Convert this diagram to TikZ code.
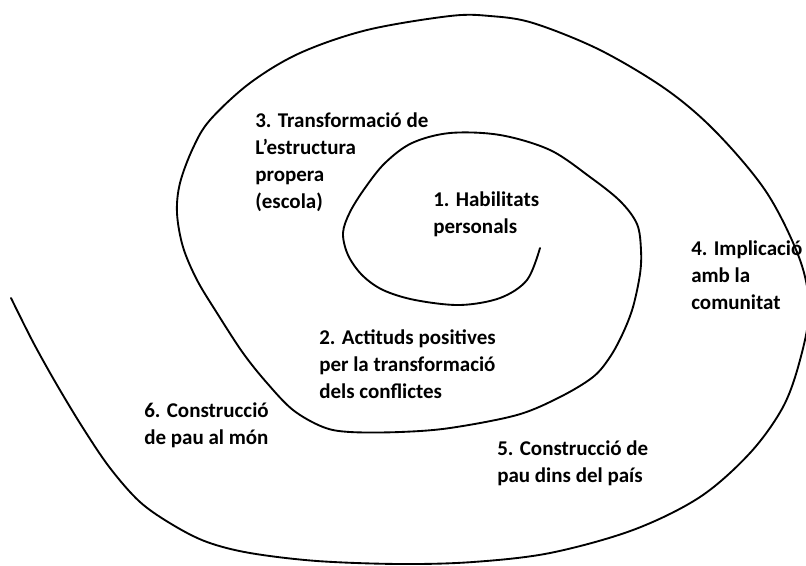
\documentclass[tikz,border=0pt]{standalone}
\usepackage{fontspec}
\setmainfont{Carlito}
\begin{document}
\begin{tikzpicture}[x=0.75pt,y=-0.75pt,
  spiral/.style={line width=1.4pt, line join=round, line cap=round},
  lbl/.style={anchor=base west, inner sep=0pt, align=left,
    font=\fontsize{15.75pt}{20.1pt}\selectfont\bfseries}]
\useasboundingbox (0,0) rectangle (806,565);
\begin{scope}
\clip (0,0) rectangle (806,565);
\draw[spiral] plot[smooth, tension=0.55] coordinates {
  (540,248) (527,280) (500,298) (460,305) (415,300) (383,290) (362,275)
  (348,255) (343,233) (350,212) (365,188) (385,163) (412,143) (450,133)
  (500,135) (550,150) (590,177) (620,201) (637,224) (641,250) (640,274)
  (633,307) (623,333) (610,357) (593,377) (560,397) (517,415) (450,428)
  (400,432) (350,432) (323,427) (293,410) (267,383) (243,353) (217,313)
  (197,280) (183,247) (177,213) (180,183) (193,148) (210,120) (250,83)
  (300,53) (367,30) (450,16)
  (490,16) (533,23) (600,50) (667,90) (717,133) (767,193) (800,260)
  (809,310) (800,360) (783,407) (750,453) (700,497) (633,530) (550,553)
  (473,562) (400,564) (317,561) (250,553) (207,542) (173,525) (140,502)
  (110,468) (83,428) (57,385) (33,342) (11,298)};
% base anchor of a multi-line node sits on its last line
\node[lbl] (l3) at (255,208) {3. Transformació de\\L’estructura\\propera\\(escola)};
\node[lbl] (l1) at (433,233.5) {1. Habilitats\\personals};
\node[lbl] (l4) at (691,309) {4. Implicació\\amb la\\comunitat};
\node[lbl] (l2) at (319,398.5) {2. Actituds positives\\per la transformació\\dels conflictes};
\node[lbl] (l6) at (144,444.5) {6. Construcció\\de pau al món};
\node[lbl] (l5) at (497,482.5) {5. Construcció de\\pau dins del país};
\end{scope}
\end{tikzpicture}
\end{document}
